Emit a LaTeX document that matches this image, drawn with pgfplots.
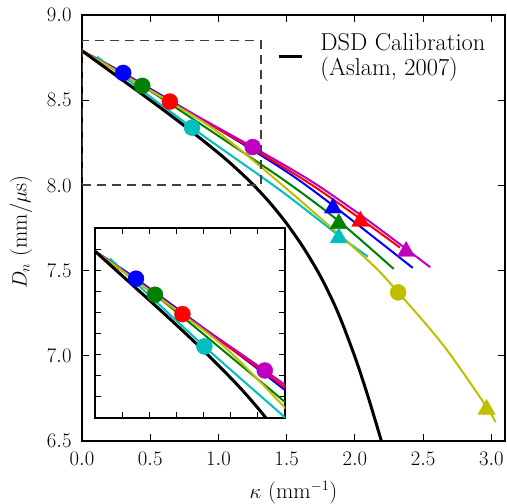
\documentclass[border=0pt]{standalone}
\usepackage{pgfplots}
\pgfplotsset{compat=1.18}

% classic matplotlib colour cycle
\definecolor{mplb}{rgb}{0,0,1}
\definecolor{mplg}{rgb}{0,0.5,0}
\definecolor{mplr}{rgb}{1,0,0}
\definecolor{mplc}{rgb}{0,0.75,0.75}
\definecolor{mplm}{rgb}{0.75,0,0.75}
\definecolor{mply}{rgb}{0.75,0.75,0}

% D_n(kappa) curves
\pgfplotstableread{
k D
0.000 8.790
0.302 8.660
1.000 8.330
1.500 8.080
1.840 7.882
2.424 7.516
}\blueline
\pgfplotstableread{
k D
0.020 8.780
0.442 8.584
1.000 8.290
1.500 8.020
1.882 7.790
2.284 7.510
}\greenline
\pgfplotstableread{
k D
0.000 8.790
0.644 8.492
1.250 8.215
1.670 8.010
2.040 7.804
2.330 7.635
}\redline
\pgfplotstableread{
k D
0.110 8.755
0.806 8.339
1.438 7.980
1.882 7.706
2.095 7.582
}\cyanline
\pgfplotstableread{
k D
0.000 8.790
0.300 8.655
0.644 8.495
1.251 8.225
1.670 8.030
2.000 7.850
2.255 7.700
2.552 7.520
}\magentaline
\pgfplotstableread{
k D
0.000 8.790
0.644 8.490
1.000 8.310
1.500 7.980
2.097 7.559
2.317 7.372
2.650 7.060
2.965 6.700
3.030 6.610
}\yellowline
% DSD calibration (Aslam, 2007)
\pgfplotstableread{
k D
0.000 8.790
0.250 8.645
0.500 8.500
0.750 8.350
1.000 8.190
1.125 8.103
1.250 8.008
1.375 7.900
1.500 7.776
1.625 7.632
1.750 7.463
1.875 7.255
2.000 6.994
2.100 6.751
2.194 6.500
}\dsdline

\newcommand\series[4]{%
  \addplot[#1, line width=2bp, smooth, forget plot] table[x=k,y=D] {#2};
  \addplot[only marks, mark=*, mark size=8bp, #1, forget plot] coordinates {#3};
  \addplot[only marks, mark=triangle*, mark size=10bp, #1, forget plot,
           mark options={yshift=-2.5bp}] coordinates {#4};
}
\newcommand\allcurves{%
  \series{mplb}{\blueline}{(0.302,8.660)}{(1.840,7.882)}
  \series{mplg}{\greenline}{(0.442,8.584)}{(1.882,7.790)}
  \series{mplr}{\redline}{(0.644,8.492)}{(2.040,7.804)}
  \series{mplc}{\cyanline}{(0.806,8.339)}{(1.882,7.706)}
  \series{mplm}{\magentaline}{(1.251,8.225)}{(2.375,7.627)}
  \series{mply}{\yellowline}{(2.317,7.372)}{(2.965,6.700)}
  \addplot[black, line width=3bp, smooth] table[x=k,y=D] {\dsdline};
}

\begin{document}
\begin{tikzpicture}
\begin{axis}[
  name=main,
  scale only axis, width=423bp, height=426bp,
  xmin=0, xmax=3.1, ymin=6.5, ymax=9.0,
  xtick={0,0.5,...,3.0}, ytick={6.5,7.0,...,9.0},
  tick align=inside, xtick pos=both, ytick pos=both,
  major tick length=7bp,
  every tick/.style={black, line width=1bp},
  axis line style={line width=1.5bp},
  tick label style={font=\fontsize{22.5}{26}\selectfont},
  xticklabel style={yshift=-7.5bp, /pgf/number format/.cd, fixed, fixed zerofill, precision=1},
  yticklabel style={xshift=-7bp, /pgf/number format/.cd, fixed, fixed zerofill, precision=1},
  xlabel={$\kappa$ (mm$^{-1}$)},
  ylabel={$D_n$ (mm/$\mu$s)},
  every axis x label/.style={at={(axis description cs:0.5,-0.094)}, anchor=north,
                             inner sep=0pt, font=\fontsize{22.5}{26}\selectfont},
  every axis y label/.style={at={(axis description cs:-0.1442,0.49)}, rotate=90, anchor=center,
                             inner sep=0pt, font=\fontsize{22.5}{26}\selectfont},
  legend style={draw=none, fill=none, at={(0.4617,0.962)}, anchor=north west,
                font=\fontsize{24.5}{22.5}\selectfont, inner sep=0pt,
                /tikz/every odd column/.append style={column sep=15bp}},
  legend cell align=left,
  legend image code/.code={\draw[#1, line width=3bp] (0bp,-7bp) -- (23bp,-7bp);},
]
\allcurves
\addlegendentry{\begin{tabular}{@{}l@{}}DSD Calibration\\(Aslam, 2007)\end{tabular}}
% zoom window shown in the inset
\addplot[black!75, line width=1.8bp, dash pattern=on 9bp off 6bp, forget plot]
  coordinates {(0,8.0) (1.31,8.0) (1.31,8.85) (0,8.85) (0,8.0)};
\end{axis}

\begin{axis}[
  at={(13bp,23bp)},
  scale only axis, width=190bp, height=190bp,
  xmin=0, xmax=1.4, ymin=8.0, ymax=8.9,
  xtick={0.2,0.4,...,1.2}, ytick={8.1,8.2,...,8.8},
  xticklabels={}, yticklabels={},
  tick align=inside, xtick pos=both, ytick pos=both,
  major tick length=6bp,
  every tick/.style={black, line width=1bp},
  axis line style={line width=1.5bp},
  axis background/.style={fill=white},
]
\allcurves
\end{axis}
\pgfresetboundingbox
\path ([xshift=-82bp,yshift=-63bp]main.south west) rectangle ([xshift=2bp,yshift=15bp]main.north east);
\end{tikzpicture}
\end{document}
